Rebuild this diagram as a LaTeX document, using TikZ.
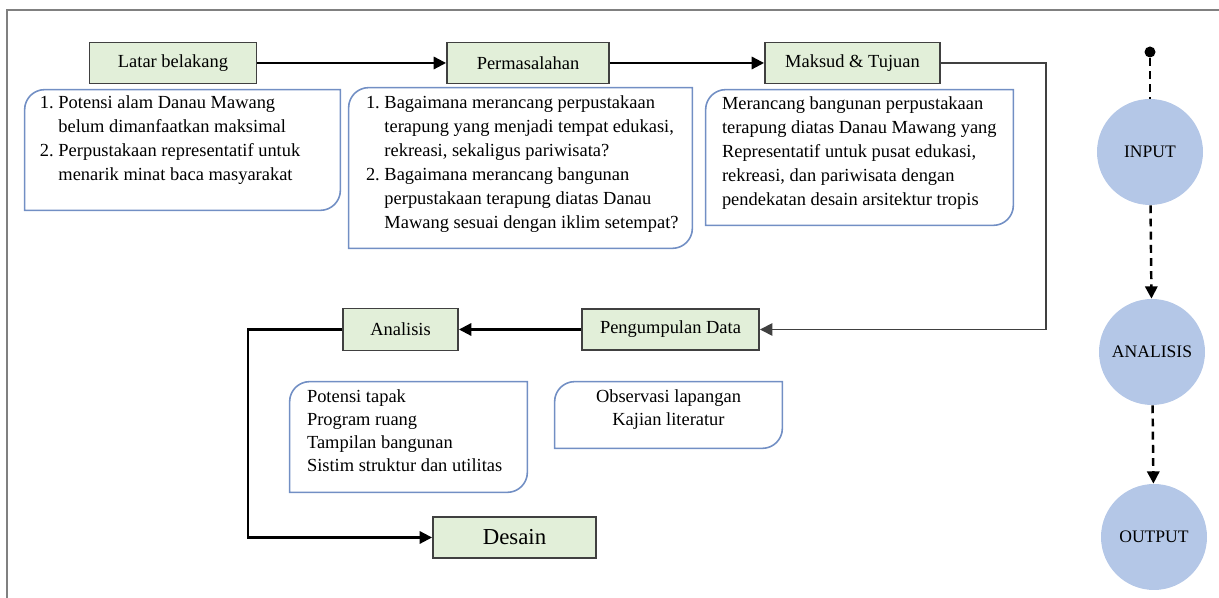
\documentclass[tikz,border=0pt]{standalone}
\usepackage{fontspec}
\setmainfont{Liberation Serif}
\usetikzlibrary{arrows.meta}
\usetikzlibrary{positioning}

\definecolor{boxgreen}{RGB}{226,239,217}
\definecolor{boxline}{RGB}{64,64,64}
\definecolor{notebl}{RGB}{114,143,196}
\definecolor{ballbl}{RGB}{180,199,231}

\tikzset{
  stage/.style={draw=boxline,line width=1.1pt,fill=boxgreen,minimum height=0.82cm,inner sep=0pt,font=\fontsize{10.5}{12}\selectfont},
  note/.style={draw=none,inner sep=0pt},
  notetext/.style={align=left,inner sep=0pt,font=\fontsize{10.5}{13.66}\selectfont},
  ball/.style={circle,fill=ballbl,minimum size=2.12cm,inner sep=0pt,font=\fontsize{10}{12}\selectfont},
  flow/.style={line width=1.2pt,-{Triangle[length=7pt,width=7pt]}},
  tosim/.style={line width=1.4pt,dash pattern=on 4.5pt off 3pt},
}
\newcommand{\notebox}[1]{\draw[notebl,line width=0.9pt] (#1.north east) -- ([yshift=0.4cm]#1.south east) arc (0:-90:0.4cm) -- (#1.south west) -- ([yshift=-0.4cm]#1.north west) arc (180:90:0.4cm) -- cycle;}

\begin{document}
\begin{tikzpicture}
\useasboundingbox (0,0) rectangle (24.38,11.96);
\draw[black!50,line width=1.2pt] (0.14,0) -- (0.14,11.76) -- (24.38,11.76);

\node[stage,minimum width=3.34cm] (latar) at (3.46,10.70) {Latar belakang};
\node[stage,minimum width=3.24cm] (masalah) at (10.56,10.70) {Permasalahan};
\node[stage,minimum width=3.50cm] (maksud) at (17.05,10.70) {Maksud \& Tujuan};
\node[stage,minimum width=3.54cm] (data) at (13.41,5.37) {Pengumpulan Data};
\node[stage,minimum width=2.30cm,minimum height=0.84cm] (analisis) at (8.01,5.37) {Analisis};
\node[stage,minimum width=3.26cm,font=\fontsize{13}{15}\selectfont] (desain) at (10.29,1.21) {Desain};

\draw[flow] (latar) -- (masalah);
\draw[flow] (masalah) -- (maksud);
\coordinate (turn1) at (20.92,5.37);
\draw[line width=0.9pt,draw=black!75,-{Triangle[length=7pt,width=7pt]}] (maksud.east) -| (turn1) -- (data.east);
\draw[flow] (data) -- (analisis);
\coordinate (turn2) at (4.96,1.21);
\draw[flow] (analisis.west) -| (turn2) -- (desain.west);

\node[note,minimum width=6.30cm,minimum height=2.40cm] (latarnote) at (3.65,8.96) {};
\notebox{latarnote}
\node[notetext,below right=0.12cm and 0.30cm of latarnote.north west] (latartext) {1.\ Potensi alam Danau Mawang\\\hphantom{1.\ }belum dimanfaatkan maksimal\\2.\ Perpustakaan representatif untuk\\\hphantom{2.\ }menarik minat baca masyarakat};

\node[note,minimum width=6.86cm,minimum height=3.20cm] (masalahnote) at (10.41,8.60) {};
\notebox{masalahnote}
\node[notetext,below right=0.16cm and 0.34cm of masalahnote.north west] (masalahtext) {1.\ Bagaimana merancang perpustakaan\\\hphantom{1.\ }terapung yang menjadi tempat edukasi,\\\hphantom{1.\ }rekreasi, sekaligus pariwisata?\\2.\ Bagaimana merancang bangunan\\\hphantom{2.\ }perpustakaan terapung diatas Danau\\\hphantom{2.\ }Mawang sesuai dengan iklim setempat?};

\node[note,minimum width=6.14cm,minimum height=2.70cm] (maksudnote) at (17.19,8.81) {};
\notebox{maksudnote}
\node[notetext,below right=0.14cm and 0.32cm of maksudnote.north west] (maksudtext) {Merancang bangunan perpustakaan\\terapung diatas Danau Mawang yang\\Representatif untuk pusat edukasi,\\rekreasi, dan pariwisata dengan\\pendekatan desain arsitektur tropis};

\node[note,minimum width=4.74cm,minimum height=2.20cm] (analisisnote) at (8.17,3.22) {};
\notebox{analisisnote}
\node[notetext,font=\fontsize{10.5}{13}\selectfont,below right=0.16cm and 0.34cm of analisisnote.north west] (analisistext) {Potensi tapak\\Program ruang\\Tampilan bangunan\\Sistim struktur dan utilitas};

\node[note,minimum width=4.54cm,minimum height=1.32cm] (datanote) at (13.37,3.66) {};
\notebox{datanote}
\node[notetext,align=center,font=\fontsize{10.5}{13}\selectfont,below=0.16cm of datanote.north] (datatext) {Observasi lapangan\\Kajian literatur};

\node[circle,fill=black,inner sep=0pt,minimum size=0.22cm] (start) at (23.00,10.92) {};
\node[ball] (input) at (23.00,8.92) {INPUT};
\node[ball] (proses) at (23.04,4.92) {ANALISIS};
\node[ball] (output) at (23.08,1.22) {OUTPUT};
\draw[tosim] (start) -- (input);
\draw[tosim,-{Triangle[length=7pt,width=7pt]}] (input) -- (proses);
\draw[tosim,-{Triangle[length=7pt,width=7pt]}] (proses) -- (output);

\end{tikzpicture}
\end{document}
